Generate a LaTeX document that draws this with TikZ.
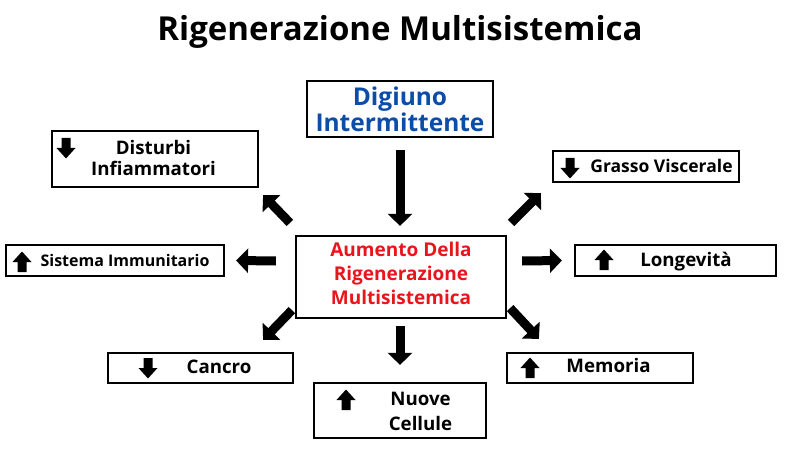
\documentclass[tikz,border=0pt]{standalone}
\usepackage{fontspec}
\setmainfont{Open Sans}
\usetikzlibrary{arrows.meta,calc}
\definecolor{dblue}{HTML}{0B4DA8}
\definecolor{cred}{HTML}{E8151B}
\begin{document}
\begin{tikzpicture}[x=1pt,y=-1pt,
  box/.style={draw=black,line width=2.2pt,inner sep=0pt,fill=white},
  lbl/.style={font=\bfseries\fontsize{18.7}{21}\selectfont,align=center,inner sep=0pt},
  big/.style={line width=9pt,-{Triangle[length=12pt 0 1,width=24pt 0 1]}},
  dn/.pic={\fill[black] (-4.5,-10) -- (4.5,-10) -- (4.5,0) -- (9.5,0) -- (0,10.5) -- (-9.5,0) -- (-4.5,0) -- cycle;},
  up/.pic={\fill[black] (-4.5,10) -- (4.5,10) -- (4.5,0) -- (9.5,0) -- (0,-10.5) -- (-9.5,0) -- (-4.5,0) -- cycle;}]
\fill[white] (0,0) rectangle (800,473);
\useasboundingbox (0,0) rectangle (800,473);
\node[font=\bfseries\fontsize{33}{36}\selectfont,inner sep=0pt] (title) at (400,32) {Rigenerazione Multisistemica};
% boxes
\node[box,minimum width=186pt,minimum height=56pt] (dig) at (400,109) {};
\node[box,minimum width=206pt,minimum height=56pt] (dis) at (155,159) {};
\node[box,minimum width=218pt,minimum height=31pt] (sis) at (115,260.5) {};
\node[box,minimum width=210pt,minimum height=82pt] (cen) at (401,277) {};
\node[box,minimum width=186pt,minimum height=31pt] (gra) at (646,166.5) {};
\node[box,minimum width=201pt,minimum height=31pt] (lon) at (675.5,260.5) {};
\node[box,minimum width=185pt,minimum height=30pt] (can) at (200.5,368) {};
\node[box,minimum width=172pt,minimum height=55pt] (nuo) at (400,410.5) {};
\node[box,minimum width=186pt,minimum height=30pt] (mem) at (600,368) {};
% texts
\node[lbl,text=dblue,font=\bfseries\fontsize{24.5}{26}\selectfont] (digt) at (dig.center) {Digiuno\\Intermittente};
\node[lbl,text=cred,font=\bfseries\fontsize{19}{24}\selectfont] (cent) at (401,273) {Aumento Della\\Rigenerazione\\Multisistemica};
\node[lbl] (dist) at (153.5,158) {Disturbi\\Infiammatori};
\node[lbl,font=\bfseries\fontsize{16}{18}\selectfont] (sist) at (125,260) {Sistema Immunitario};
\node[lbl,font=\bfseries\fontsize{17.5}{18}\selectfont] (grat) at (661.5,166) {Grasso Viscerale};
\node[lbl] (lont) at (686,261.5) {Longevità};
\node[lbl] (cant) at (219,367) {Cancro};
\node[lbl,font=\bfseries\fontsize{18.7}{25}\selectfont] (nuot) at (420.5,411) {Nuove\\Cellule};
\node[lbl] (memt) at (608.5,365) {Memoria};
% icons
\pic at (66,148) {dn};
\pic at (22,262) {up};
\pic at (570,168) {dn};
\pic at (604,260) {up};
\pic at (148,368) {dn};
\pic at (346,400) {up};
\pic at (530,368) {up};
% arrows
\draw[big] ($(dig.south)+(0,12)$) -- ($(cen.north)+(-1,-9)$);
\draw[big] ($(cen.north west)+(-5,-12)$) -- ($(dis.south east)+(4,7)$);
\draw[big] ($(cen.west)+(-19,-16)$) -- ($(sis.east)+(11,0)$);
\draw[big] ($(cen.north east)+(4,-12)$) -- ($(gra.south west)+(-11,10)$);
\draw[big] ($(cen.east)+(15,-16)$) -- ($(lon.west)+(-12,0)$);
\draw[big] ($(cen.south west)+(-3,-9)$) -- ($(can.north east)+(-31,-12)$);
\draw[big] ($(cen.south)+(-1,7)$) -- ($(nuo.north)+(0,-17)$);
\draw[big] ($(cen.south east)+(3,-11)$) -- ($(mem.north west)+(33,-13)$);
\end{tikzpicture}
\end{document}
